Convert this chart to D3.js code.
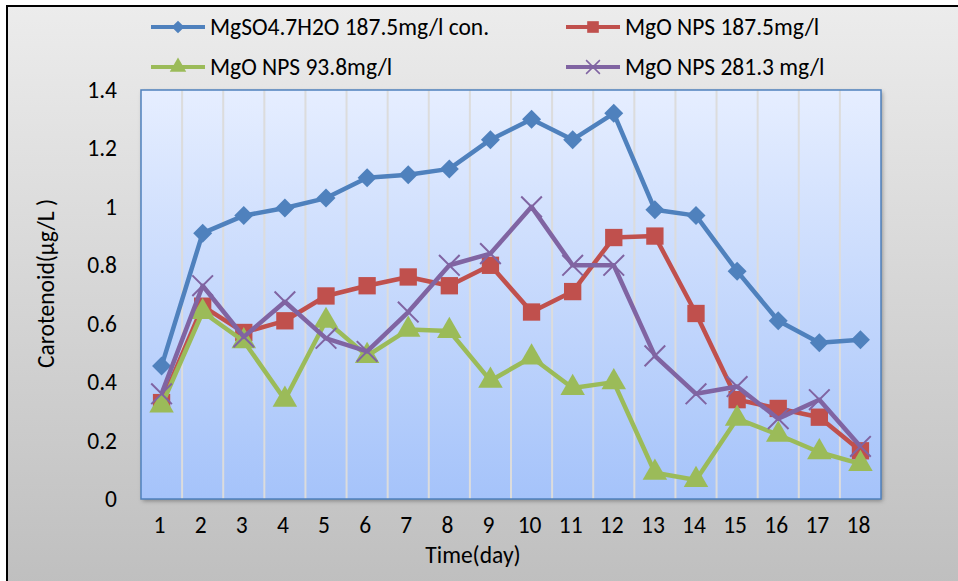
<!DOCTYPE html>
<html>
<head>
<meta charset="utf-8">
<script src="https://cdnjs.cloudflare.com/ajax/libs/d3/7.8.5/d3.min.js"></script>
<style>
  body { margin: 0; background: #fff; }
  svg text { font-family: Carlito, Lato, 'Open Sans', sans-serif; fill: #000; }
</style>
</head>
<body>
<div class="chart"></div>
<script>
const days = d3.range(1, 19)
const yTicks = [0, 0.2, 0.4, 0.6, 0.8, 1, 1.2, 1.4]

const seriesNames = ['MgSO4.7H2O 187.5mg/l con.', 'MgO NPS 187.5mg/l', 'MgO NPS 93.8mg/l', 'MgO NPS 281.3 mg/l']
const mgso4 = [0.455, 0.91, 0.97, 0.996, 1.03, 1.10, 1.11, 1.13, 1.23, 1.30, 1.23, 1.32, 0.99, 0.97, 0.78, 0.61, 0.535, 0.545]
const nps1875 = [0.33, 0.66, 0.57, 0.61, 0.695, 0.73, 0.76, 0.73, 0.80, 0.64, 0.71, 0.895, 0.90, 0.635, 0.34, 0.31, 0.28, 0.165]
const nps938 = [0.32, 0.64, 0.54, 0.34, 0.61, 0.49, 0.58, 0.575, 0.405, 0.485, 0.38, 0.40, 0.09, 0.065, 0.275, 0.22, 0.16, 0.12]
const nps2813 = [0.36, 0.73, 0.555, 0.675, 0.55, 0.505, 0.64, 0.80, 0.84, 1.0, 0.80, 0.80, 0.49, 0.36, 0.385, 0.275, 0.34, 0.18]

const colours = ['#4f81bd', '#c0504d', '#9bbb59', '#8064a2']
const markers = ['diamond', 'square', 'triangle', 'cross']
const values = [mgso4, nps1875, nps938, nps2813]

const fullWidth = 958, fullHeight = 581
const margin = { top: 90, right: 77, bottom: 82, left: 141 }
const width = fullWidth - margin.left - margin.right
const height = fullHeight - margin.top - margin.bottom
const fontSize = '23.5px'

const svg = d3.select('.chart').append('svg')
    .attr('width', fullWidth)
    .attr('height', fullHeight)

const defs = svg.append('defs')
const bg = defs.append('linearGradient').attr('id', 'bg').attr('x1', 0).attr('y1', 0).attr('x2', 0).attr('y2', 1)
bg.append('stop').attr('offset', '0%').attr('stop-color', '#ececec')
bg.append('stop').attr('offset', '100%').attr('stop-color', '#bebebe')
const plotBg = defs.append('linearGradient').attr('id', 'plotbg').attr('x1', 0).attr('y1', 0).attr('x2', 0).attr('y2', 1)
plotBg.append('stop').attr('offset', '0%').attr('stop-color', '#e6eeff')
plotBg.append('stop').attr('offset', '100%').attr('stop-color', '#a5c3fa')
const shadow = defs.append('filter').attr('id', 'shadow').attr('x', '-5%').attr('y', '-5%').attr('width', '110%').attr('height', '110%')
shadow.append('feDropShadow').attr('dx', 1.5).attr('dy', 2).attr('stdDeviation', 2).attr('flood-color', '#000').attr('flood-opacity', 0.35)

// outer chart area, black frame only shows at top/left
svg.append('rect')
    .attr('x', 7).attr('y', 6)
    .attr('width', fullWidth + 10).attr('height', fullHeight + 10)
    .attr('fill', 'url(#bg)')
    .attr('stroke', '#000')
    .attr('stroke-width', 2)

const g = svg.append('g').attr('transform', `translate(${margin.left}, ${margin.top})`)

const x = d3.scaleBand().domain(days).range([0, width])
const y = d3.scaleLinear().domain([0, 1.4]).range([height, 0])

g.append('rect')
    .attr('width', width).attr('height', height)
    .attr('fill', 'url(#plotbg)')
    .attr('filter', 'url(#shadow)')

// vertical gridlines at category boundaries
g.selectAll('.grid')
    .data(days.slice(1))
    .enter().append('line')
    .attr('x1', d => x(d)).attr('x2', d => x(d))
    .attr('y1', 0).attr('y2', height)
    .attr('stroke', '#dcdcdc')
    .attr('stroke-width', 2)

g.append('rect')
    .attr('width', width).attr('height', height)
    .attr('fill', 'none')
    .attr('stroke', '#4f81bd')
    .attr('stroke-width', 1.5)

// axes
const xAxis = g.append('g')
    .attr('transform', `translate(0, ${height})`)
    .call(d3.axisBottom(x).tickSize(0).tickPadding(17))
xAxis.select('.domain').remove()
xAxis.selectAll('text').style('font-size', fontSize).attr('dx', -2)

const yAxis = g.append('g')
    .call(d3.axisLeft(y).tickValues(yTicks).tickFormat(d3.format('')).tickSize(0).tickPadding(24))
yAxis.select('.domain').remove()
yAxis.selectAll('text').style('font-size', fontSize)

g.append('text')
    .attr('x', 473 - margin.left).attr('y', height + 64)
    .attr('text-anchor', 'middle')
    .style('font-size', fontSize)
    .text('Time(day)')

g.append('text')
    .attr('transform', `translate(-87, ${height / 2 - 11}) rotate(-90)`)
    .attr('text-anchor', 'middle')
    .style('font-size', fontSize)
    .text('Carotenoid(µg/L )')

const cx = d => x(d) + x.bandwidth() / 2
const line = d3.line().x(d => cx(d.day)).y(d => y(d.v))

const symbolFor = (type, size) => d3.symbol().type({
    diamond: d3.symbolDiamond2,
    square: d3.symbolSquare,
    triangle: d3.symbolTriangle,
    cross: d3.symbolTimes
}[type]).size(size)
const markSize = { diamond: 230, square: 300, triangle: 260, cross: 280 }

seriesNames.forEach((name, i) => {
    const pts = values[i].map((v, j) => ({ day: days[j], v: v }))
    const s = g.append('g').attr('class', 'series')
    s.append('path')
        .datum(pts)
        .attr('d', line)
        .attr('fill', 'none')
        .attr('stroke', colours[i])
        .attr('stroke-width', 4.5)
        .attr('stroke-linejoin', 'round')
    s.selectAll('.mark')
        .data(pts)
        .enter().append('path')
        .attr('transform', d => `translate(${cx(d.day)}, ${y(d.v)})`)
        .attr('d', symbolFor(markers[i], markSize[markers[i]]))
        .attr('fill', markers[i] === 'cross' ? 'none' : colours[i])
        .attr('stroke', colours[i])
        .attr('stroke-width', markers[i] === 'cross' ? 2 : 0)
})

// legend
const legendPos = [[151, 27], [566, 27], [151, 67], [566, 67]]
seriesNames.forEach((name, i) => {
    const lg = svg.append('g').attr('transform', `translate(${legendPos[i][0]}, ${legendPos[i][1]})`)
    lg.append('line')
        .attr('x1', 0).attr('x2', 54)
        .attr('stroke', colours[i])
        .attr('stroke-width', 4)
    lg.append('path')
        .attr('transform', 'translate(27, 0)')
        .attr('d', symbolFor(markers[i], markSize[markers[i]] * 0.45))
        .attr('fill', markers[i] === 'cross' ? 'none' : colours[i])
        .attr('stroke', colours[i])
        .attr('stroke-width', markers[i] === 'cross' ? 1.5 : 0)
    lg.append('text')
        .attr('x', 59).attr('y', 7.5)
        .style('font-size', fontSize)
        .text(name)
})
</script>
</body>
</html>
